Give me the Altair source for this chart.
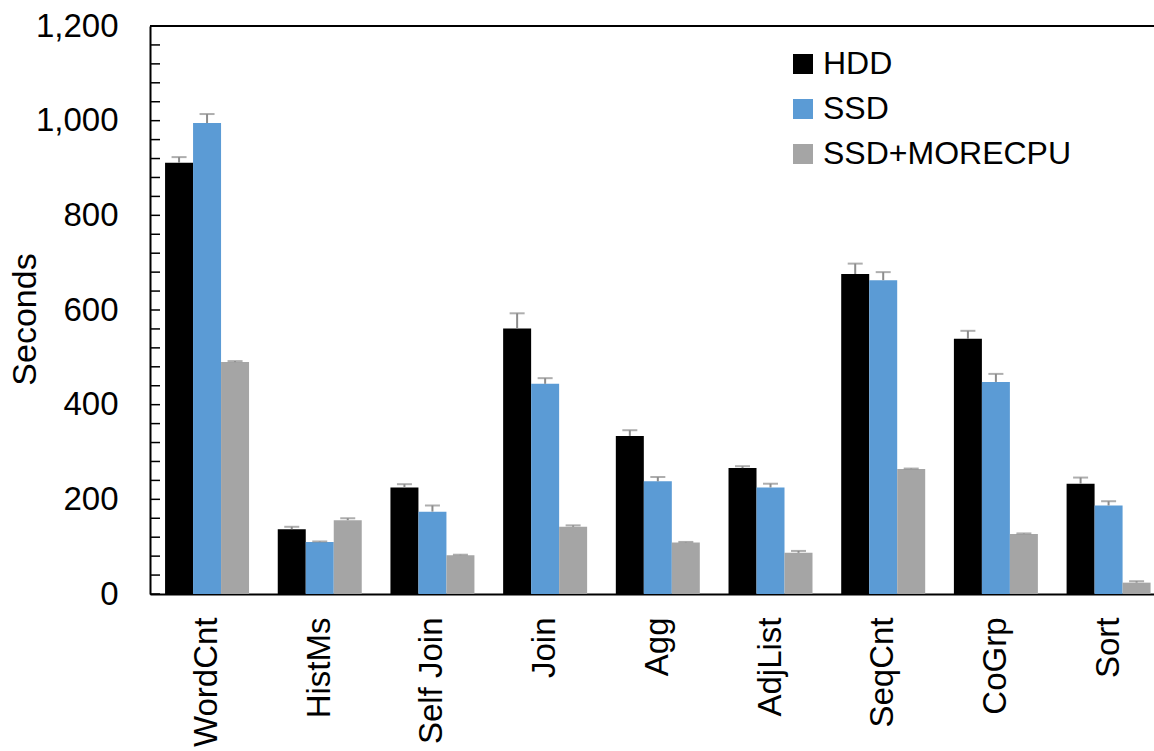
import altair as alt
import pandas as pd

categories = ["WordCnt", "HistMs", "Self Join", "Join", "Agg", "AdjList", "SeqCnt", "CoGrp", "Sort"]
series = ["HDD", "SSD", "SSD+MORECPU"]
colors = ["#000000", "#5B9BD5", "#A5A5A5"]

hdd = [911, 137, 225, 561, 334, 266, 676, 539, 233]
ssd = [995, 110, 174, 444, 238, 225, 663, 448, 187]
more = [490, 156, 82, 142, 109, 87, 264, 127, 24]

hdd_err = [12, 5, 7, 32, 12, 4, 22, 17, 13]
ssd_err = [19, 1, 13, 12, 9, 8, 17, 17, 9]
more_err = [2, 4, 1, 3, 1, 4, 1, 1, 3]

y_major = [0, 200, 400, 600, 800, 1000, 1200]
y_minor = list(range(0, 1201, 40))

rows = []
for s, vals, errs in zip(series, [hdd, ssd, more], [hdd_err, ssd_err, more_err]):
    for c, v, e in zip(categories, vals, errs):
        rows.append({"cat": c, "series": s, "value": v, "top": v + e})
df = pd.DataFrame(rows)
ticks_df = pd.DataFrame({"value": y_minor})

FONT = "Liberation Sans"
W, H = 1004, 568

xscale = alt.Scale(paddingInner=0.2547, paddingOuter=0.082, align=0.815)
xaxis = alt.Axis(labelAngle=-90, labelFontSize=33, labelPadding=23, ticks=False,
                 domainColor="#000000", domainWidth=2, title=None, labelColor="#000000",
                 labelFont=FONT, labelLimit=400)
yscale = alt.Scale(domain=[0, 1200], nice=False, zero=True)
yaxis = alt.Axis(values=y_major, format=",.0f", labelFontSize=33, labelPadding=32, ticks=False,
                 domainColor="#000000", domainWidth=2, grid=False, title="Seconds",
                 titleFontSize=34, titleFontWeight="normal", titleX=-125, titleY=293,
                 titleAlign="center", titleBaseline="middle", labelColor="#000000",
                 titleColor="#000000", labelFont=FONT, titleFont=FONT)

X = alt.X("cat:N", sort=categories, scale=xscale, axis=xaxis)
XO = alt.XOffset("series:N", sort=series, scale=alt.Scale(paddingInner=0, paddingOuter=0))

bars = alt.Chart(df).mark_bar().encode(
    x=X, xOffset=XO,
    y=alt.Y("value:Q", scale=yscale, axis=yaxis),
    color=alt.Color("series:N", sort=series, scale=alt.Scale(domain=series, range=colors),
                    legend=alt.Legend(title=None, orient="none", legendX=637, legendY=22,
                                      symbolType="square", symbolSize=400,
                                      symbolStrokeWidth=0, labelFontSize=32,
                                      labelFont=FONT, labelColor="#000000",
                                      labelOffset=4, rowPadding=13, padding=0,
                                      labelLimit=500)),
)

err = alt.Chart(df).mark_rule(color="#8C8C8C", strokeWidth=2).encode(
    x=X, xOffset=XO,
    y=alt.Y("value:Q", scale=yscale, axis=yaxis),
    y2="top:Q",
)

caps = alt.Chart(df).mark_tick(color="#8C8C8C", thickness=2).encode(
    x=X, xOffset=XO,
    y=alt.Y("top:Q", scale=yscale, axis=yaxis),
    size=alt.value(15),
)

minor = alt.Chart(ticks_df).mark_rule(color="#000000", strokeWidth=1.5).encode(
    x=alt.value(0), x2=alt.value(10),
    y=alt.Y("value:Q", scale=yscale, axis=yaxis),
)

topline = alt.Chart(ticks_df).mark_rule(color="#000000", strokeWidth=2).encode(
    x=alt.value(0), x2=alt.value(W), y=alt.value(0),
)

chart = alt.layer(bars, err, caps, minor, topline).properties(
    width=W, height=H,
    autosize=alt.AutoSizeParams(type="none"),
    padding={"left": 150, "top": 26, "right": 0, "bottom": 157},
).configure_view(stroke=None).configure(background="white")

chart.save("out.html", embed_options={"renderer": "svg", "actions": False})
